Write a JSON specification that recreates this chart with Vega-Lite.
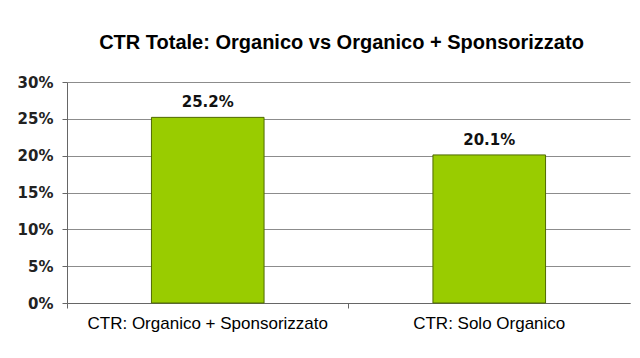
{
  "$schema": "https://vega.github.io/schema/vega-lite/v6.json",
  "width": 563,
  "height": 221,
  "autosize": {"type": "none"},
  "padding": {"left": 67, "top": 82, "right": 10, "bottom": 55},
  "background": "white",
  "title": {
    "text": "CTR Totale: Organico vs Organico + Sponsorizzato",
    "font": "Liberation Sans",
    "fontSize": 20,
    "fontWeight": "bold",
    "color": "#000000",
    "anchor": "middle",
    "offset": 22,
    "dx": -7
  },
  "data": {
    "values": [
      {"categoria": "CTR: Organico + Sponsorizzato", "ctr": 0.252, "label": "25.2%"},
      {"categoria": "CTR: Solo Organico", "ctr": 0.201, "label": "20.1%"}
    ]
  },
  "config": {
    "view": {"stroke": null},
    "axis": {"domainColor": "#666666", "tickColor": "#666666"}
  },
  "encoding": {
    "x": {
      "field": "categoria",
      "type": "nominal",
      "sort": null,
      "scale": {"paddingInner": 0.6, "paddingOuter": 0.3},
      "axis": {
        "title": null,
        "labelAngle": 0,
        "labelFont": "Liberation Sans",
        "labelFontSize": 17,
        "labelColor": "#000000",
        "labelPadding": 7,
        "labelLimit": 0,
        "bandPosition": -0.75,
        "ticks": true,
        "tickSize": 5,
        "grid": false
      }
    },
    "y": {
      "field": "ctr",
      "type": "quantitative",
      "scale": {"domain": [0, 0.3], "nice": false},
      "axis": {
        "title": null,
        "format": ".0%",
        "values": [0, 0.05, 0.1, 0.15, 0.2, 0.25, 0.3],
        "labelOverlap": false,
        "labelFont": "DejaVu Sans",
        "labelFontSize": 15,
        "labelFontWeight": "bold",
        "labelColor": "#222222",
        "labelPadding": 9,
        "tickSize": 5,
        "grid": true,
        "gridColor": "#8c8c8c",
        "gridWidth": 1
      }
    }
  },
  "layer": [
    {
      "mark": {"type": "bar", "color": "#99CC00", "stroke": "#4F6A00", "strokeWidth": 1}
    },
    {
      "mark": {"type": "text", "baseline": "bottom", "dy": -7, "font": "DejaVu Sans", "fontSize": 15, "fontWeight": "bold", "color": "#111111"},
      "encoding": {
        "text": {"field": "label"}
      }
    }
  ]
}
